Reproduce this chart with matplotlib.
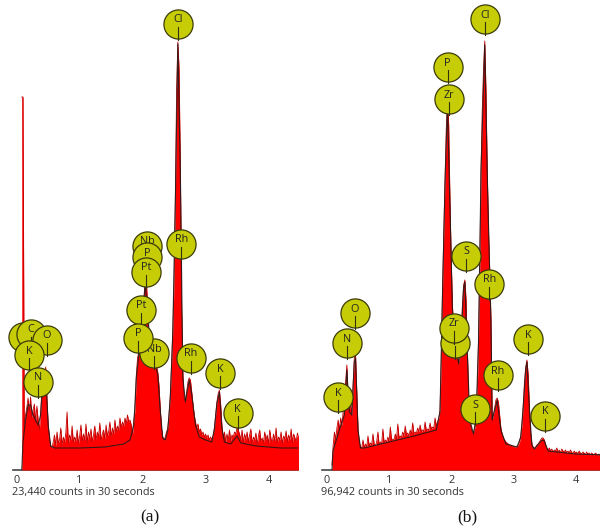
import numpy as np
import matplotlib
matplotlib.use("Agg")
import matplotlib.pyplot as plt

# ---------------- data ----------------
e_start = 0.08
e_step = 0.02

counts_a = [
    373, 373, 45, 55, 62, 72, 58, 73, 52, 60,
    66, 48, 64, 50, 40, 58, 80, 98, 90, 103,
    70, 45, 32, 24, 22, 28, 35, 24, 38, 27,
    30, 42, 25, 33, 28, 37, 58, 26, 35, 30,
    44, 27, 33, 29, 40, 26, 34, 45, 28, 36,
    30, 46, 27, 38, 32, 41, 28, 35, 44, 30,
    38, 33, 47, 29, 36, 40, 31, 45, 34, 38,
    48, 33, 42, 36, 50, 38, 44, 40, 52, 42,
    48, 44, 52, 46, 55, 48, 50, 45, 36, 50,
    60, 95, 112, 118, 122, 128, 145, 170, 190, 188,
    165, 135, 120, 115, 112, 110, 108, 104, 98, 85,
    62, 42, 33, 30, 33, 38, 42, 55, 75, 105,
    140, 190, 270, 380, 428, 400, 300, 160, 95, 72,
    70, 78, 88, 92, 90, 78, 65, 55, 48, 42,
    46, 38, 41, 35, 38, 33, 36, 32, 35, 30,
    33, 30, 35, 42, 55, 68, 76, 80, 66, 44,
    32, 38, 28, 36, 30, 40, 29, 35, 33, 38,
    36, 42, 40, 36, 30, 40, 27, 36, 31, 38,
    28, 35, 41, 26, 33, 30, 37, 25, 34, 40,
    29, 32, 27, 38, 30, 35, 26, 40, 31, 28,
    36, 29, 42, 27, 33, 30, 38, 26, 34, 31,
    39, 28, 35, 30, 41, 27, 36, 32, 29, 37,
    33,
]

counts_b = [
    5, 25, 38, 30, 42, 50, 40, 52, 44, 58,
    62, 88, 105, 72, 60, 66, 55, 85, 112, 115,
    78, 40, 28, 23, 22, 30, 22, 26, 23, 34,
    24, 27, 25, 36, 26, 24, 28, 38, 25, 28,
    26, 41, 27, 30, 28, 33, 29, 43, 30, 31,
    30, 36, 31, 46, 32, 34, 33, 38, 34, 44,
    35, 37, 34, 40, 36, 47, 36, 38, 37, 42,
    38, 45, 38, 40, 39, 48, 39, 41, 40, 47,
    41, 43, 42, 52, 44, 48, 52, 60, 110, 180,
    235, 290, 340, 370, 345, 270, 210, 165, 140, 130,
    125, 112, 108, 115, 135, 165, 185, 190, 170, 120,
    75, 52, 42, 38, 38, 42, 55, 80, 130, 200,
    300, 360, 400, 429, 380, 300, 240, 200, 150, 50,
    55, 62, 70, 72, 68, 55, 42, 36, 32, 30,
    28, 27, 26, 25, 25, 24, 24, 23, 23, 24,
    25, 28, 34, 45, 65, 88, 103, 110, 95, 62,
    36, 26, 22, 22, 23, 25, 26, 28, 30, 32,
    32, 30, 25, 22, 20, 22, 19, 21, 18, 20,
    19, 22, 18, 20, 17, 21, 19, 18, 20, 17,
    19, 17, 20, 18, 16, 19, 17, 18, 16, 19,
    17, 16, 18, 17, 15, 18, 16, 17, 15, 17,
    16, 15, 17, 16, 15, 16, 14, 16, 15, 16,
    15,
]

fit_e_a = [0.08, 0.10, 0.14, 0.18, 0.22, 0.26, 0.30, 0.34, 0.38, 0.42, 0.46, 0.50,
           0.54, 0.60, 1.00, 1.40, 1.70, 1.80, 1.86, 1.90, 1.94, 1.98, 2.02, 2.04,
           2.08, 2.12, 2.16, 2.20, 2.24, 2.28, 2.32, 2.36, 2.40, 2.44, 2.48, 2.52,
           2.56, 2.60, 2.64, 2.68, 2.74, 2.78, 2.84, 2.90, 3.00, 3.10, 3.14, 3.18,
           3.22, 3.26, 3.30, 3.40, 3.50, 3.56, 3.80, 4.20, 4.48]
fit_a = [0, 28, 50, 65, 65, 55, 50, 45, 55, 92, 98, 45,
         24, 22, 22, 23, 26, 30, 45, 92, 116, 126, 168, 186,
         162, 118, 110, 106, 96, 60, 32, 30, 40, 72, 138, 268,
         426, 298, 92, 68, 90, 76, 45, 33, 30, 28, 40, 66,
         78, 42, 28, 26, 34, 27, 24, 22, 22]

fit_e_b = [0.08, 0.10, 0.20, 0.28, 0.32, 0.36, 0.40, 0.44, 0.46, 0.50, 0.54, 0.60,
           1.00, 1.40, 1.76, 1.82, 1.86, 1.90, 1.94, 1.98, 2.02, 2.06, 2.12, 2.16,
           2.20, 2.22, 2.26, 2.30, 2.36, 2.40, 2.44, 2.48, 2.54, 2.58, 2.62, 2.64,
           2.66, 2.70, 2.74, 2.80, 2.88, 3.06, 3.12, 3.16, 3.20, 3.22, 3.26, 3.30,
           3.34, 3.46, 3.50, 3.56, 4.00, 4.48]
fit_b = [0, 20, 40, 55, 100, 58, 55, 108, 112, 40, 22, 22,
         28, 34, 40, 58, 175, 285, 365, 265, 160, 128, 106, 132,
         182, 188, 118, 50, 36, 52, 128, 298, 425, 298, 198, 148,
         50, 60, 70, 40, 26, 23, 33, 63, 101, 108, 60, 25,
         21, 30, 29, 19, 16, 15]

# peak labels: (symbol, energy keV, height) in drawing order
labels_a = [("C", 0.105, 133), ("C", 0.221, 136), ("O", 0.480, 130), ("K", 0.202, 115),
            ("N", 0.336, 88), ("Nb", 2.077, 224), ("P", 2.069, 213), ("Pt", 2.053, 198),
            ("Rh", 2.613, 226), ("Pt", 1.973, 160), ("Nb", 2.186, 117), ("P", 1.930, 132),
            ("Rh", 2.762, 112), ("K", 3.237, 97), ("K", 3.509, 57), ("Cl", 2.565, 446)]
labels_b = [("Cl", 2.544, 451), ("P", 1.944, 403), ("Zr", 1.965, 371), ("S", 2.238, 214),
            ("Rh", 2.614, 186), ("Zr", 2.061, 127), ("Zr", 2.045, 142), ("S", 2.383, 61),
            ("Rh", 2.749, 95), ("K", 3.242, 131), ("K", 3.510, 54), ("O", 0.451, 157),
            ("N", 0.317, 127), ("K", 0.182, 73)]

tick_vals = [0, 1, 2, 3, 4]
caption_a = "23,440 counts in 30 seconds"
caption_b = "96,942 counts in 30 seconds"

# ---------------- drawing ----------------
W, H = 600, 529
fig = plt.figure(figsize=(W / 100, H / 100), dpi=100)
fig.patch.set_facecolor("white")

circle_face = "#c6cc06"
circle_edge = "#3c3c08"


def panel(rect, xlim, counts, fit_e, fit_v, labels, caption, cap_x, tag, tag_x):
    ax = fig.add_axes(rect)
    energies = e_start + e_step * np.arange(len(counts))
    ax.fill_between(energies, 0, counts, color="#ff0000", lw=0, zorder=3)
    ax.plot(energies, counts, color="#c00000", lw=0.6, zorder=4)
    ax.plot(fit_e, fit_v, color="#1a1a1a", lw=0.8, alpha=0.85, zorder=5)
    ax.set_xlim(*xlim)
    ax.set_ylim(0, 470)
    for s in ["top", "right", "left"]:
        ax.spines[s].set_visible(False)
    ax.spines["bottom"].set_color("#444444")
    ax.spines["bottom"].set_linewidth(1.2)
    ax.set_yticks([])
    ax.set_xticks(tick_vals)
    ax.set_xticklabels([str(t) for t in tick_vals])
    ax.tick_params(axis="x", length=0, pad=3.5, labelsize=7.8, labelcolor="#333333")
    for lab in ax.get_xticklabels():
        lab.set_family("Open Sans")
    ax.patch.set_alpha(0)
    z = 10
    for sym, ex, hy in labels:
        ax.scatter([ex], [hy], s=440, marker="o", facecolor=circle_face,
                   edgecolor=circle_edge, linewidths=0.9, zorder=z, clip_on=False)
        ax.plot([ex, ex], [hy - 3, hy - 16], color="#333310", lw=0.8, zorder=z + 0.1,
                clip_on=False)
        ax.text(ex, hy + 4, sym, ha="center", va="center", fontsize=7.8,
                family="Open Sans", color="#222222", zorder=z + 0.2, clip_on=False)
        z += 1
    fig.text(cap_x / W, 1 - 493 / H, caption, ha="left", va="center",
             fontsize=7.8, family="Open Sans", color="#333333")
    fig.text(tag_x / W, 1 - 517 / H, tag, ha="center", va="center",
             fontsize=12.5, family="Liberation Serif", color="#111111")
    return ax


panel([13 / W, (H - 470) / H, 285 / W, 470 / H], (-0.059, 4.469),
      counts_a, fit_e_a, fit_a, labels_a, caption_a, 12, "(a)", 150)
panel([322 / W, (H - 470) / H, 278 / W, 470 / H], (-0.08, 4.396),
      counts_b, fit_e_b, fit_b, labels_b, caption_b, 321, "(b)", 467)

fig.savefig("out.png", dpi=100)
